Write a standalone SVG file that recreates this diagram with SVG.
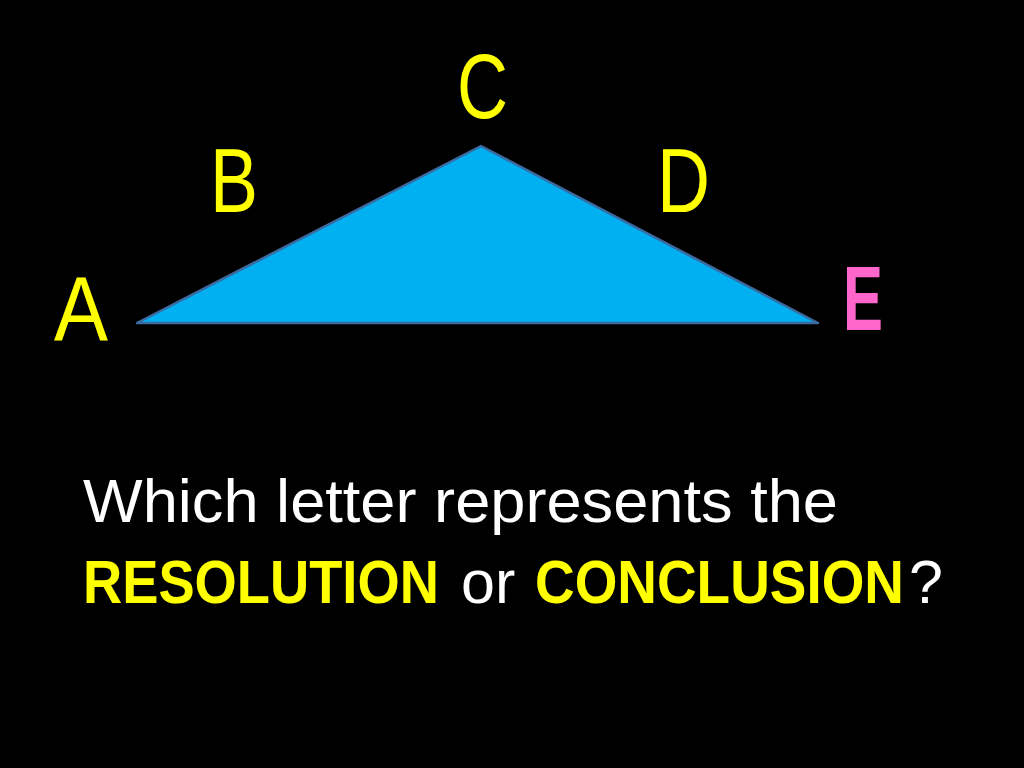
<svg xmlns="http://www.w3.org/2000/svg" width="1024" height="768" viewBox="0 0 1024 768">
<style>
.lbl{font-family:"Liberation Sans","Open Sans",sans-serif;font-size:90px;fill:#ffff00}
.q{font-family:"Liberation Sans","Open Sans",sans-serif;font-size:61px;fill:#ffffff}
.b{font-weight:bold;fill:#ffff00}
</style>
<rect width="1024" height="768" fill="#000000"/>
<g id="triangle">
<polygon points="137,323 481,146 818,323" fill="#00b0f0" stroke="#3b6aa0" stroke-width="2.5" stroke-linejoin="round"/>
</g>
<g id="labels">
<text class="lbl" x="457" y="118" textLength="51" lengthAdjust="spacingAndGlyphs">C</text>
<text class="lbl" x="210" y="212" textLength="48" lengthAdjust="spacingAndGlyphs">B</text>
<text class="lbl" x="657" y="212" textLength="53" lengthAdjust="spacingAndGlyphs">D</text>
<text class="lbl" x="54" y="340" textLength="54" lengthAdjust="spacingAndGlyphs">A</text>
<text class="lbl" x="843" y="330" font-weight="bold" style="fill:#ff66cc" textLength="40" lengthAdjust="spacingAndGlyphs">E</text>
</g>
<g id="question">
<text class="q" x="83" y="522" textLength="755" lengthAdjust="spacingAndGlyphs">Which letter represents the</text>
<text class="q b" transform="translate(83,603) scale(0.89,1)">RESOLUTION</text>
<text class="q" x="461" y="603">or</text>
<text class="q b" transform="translate(535,603) scale(0.9,1)">CONCLUSION</text>
<text class="q" x="909" y="603">?</text>
</g>
</svg>
